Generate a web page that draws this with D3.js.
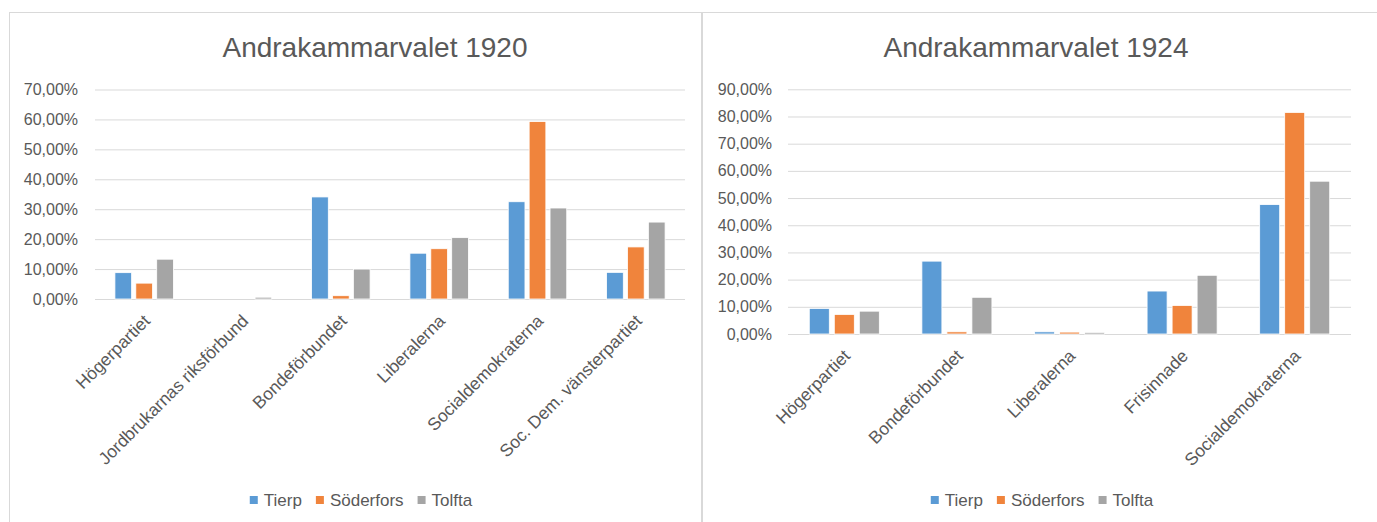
<!DOCTYPE html>
<html>
<head>
<meta charset="utf-8">
<script src="https://cdn.jsdelivr.net/npm/d3@7"></script>
<style>
  body { margin: 0; background: #fff; }
  svg { display: block; font-family: "Liberation Sans", Arial, sans-serif; }
</style>
</head>
<body>
<svg id="chart" width="1377" height="522"></svg>
<script>
// data (percent)
const series = ['Tierp', 'Söderfors', 'Tolfta']
const colors = ['#5B9BD5', '#F0843C', '#A5A5A5']

const parties1920 = ['Högerpartiet', 'Jordbrukarnas riksförbund', 'Bondeförbundet', 'Liberalerna', 'Socialdemokraterna', 'Soc. Dem. vänsterpartiet']
const tierp1920 = [8.8, 0, 34.1, 15.3, 32.5, 8.9]
const soderfors1920 = [5.3, 0, 1.1, 16.8, 59.3, 17.4]
const tolfta1920 = [13.3, 0.6, 10.0, 20.5, 30.4, 25.7]
const yTicks1920 = [0, 10, 20, 30, 40, 50, 60, 70]

const parties1924 = ['Högerpartiet', 'Bondeförbundet', 'Liberalerna', 'Frisinnade', 'Socialdemokraterna']
const tierp1924 = [9.4, 26.8, 0.8, 15.8, 47.6]
const soderfors1924 = [7.2, 0.8, 0.7, 10.5, 81.5]
const tolfta1924 = [8.4, 13.5, 0.6, 21.6, 56.2]
const yTicks1924 = [0, 10, 20, 30, 40, 50, 60, 70, 80, 90]

const locale = d3.formatLocale({ decimal: ',', thousands: ' ', grouping: [3], currency: ['', ''] })
const fmt = locale.format('.2f')

const svg = d3.select('#chart')
svg.append('rect').attr('width', 1377).attr('height', 522).attr('fill', '#fff')

// chart frames
svg.append('rect')
  .attr('x', 9.5).attr('y', 12.5).attr('width', 692).attr('height', 520)
  .attr('fill', 'none').attr('stroke', '#d9d9d9')
svg.append('rect')
  .attr('x', 702.5).attr('y', 12.5).attr('width', 690).attr('height', 520)
  .attr('fill', 'none').attr('stroke', '#d9d9d9')

function drawChart(cfg) {
  const rows = cfg.categories.map((c, i) => ({
    cat: c,
    vals: series.map((s, j) => ({ key: s, value: cfg.values[j][i], color: colors[j] }))
  }))

  const x0 = d3.scaleBand().domain(cfg.categories)
    .range(cfg.xRange).paddingInner(cfg.pad).paddingOuter(cfg.pad / 2)
  const x1 = d3.scaleBand().domain(series).range([0, x0.bandwidth()]).paddingInner(0.2)
  const y = d3.scaleLinear().domain([0, d3.max(cfg.ticks)]).range(cfg.yRange)

  const g = svg.append('g')

  // title
  g.append('text')
    .attr('x', cfg.titleX).attr('y', 57)
    .attr('text-anchor', 'middle')
    .attr('font-size', 28)
    .attr('fill', '#595959')
    .text(cfg.title)

  // grid + y labels
  const yAxis = g.append('g')
    .attr('transform', `translate(${cfg.xRange[0]},0)`)
    .call(d3.axisLeft(y)
      .tickValues(cfg.ticks)
      .tickFormat(d => fmt(d) + '%')
      .tickSize(-(cfg.xRange[1] - cfg.xRange[0]))
      .tickPadding(cfg.tickPad))
  yAxis.select('.domain').remove()
  yAxis.selectAll('line').attr('stroke', '#d9d9d9')
  yAxis.selectAll('text')
    .attr('fill', '#595959')
    .attr('font-size', 16)
    .attr('font-family', '"Liberation Sans", Arial, sans-serif')

  // bars
  g.append('g').selectAll('g')
    .data(rows)
    .join('g')
    .attr('transform', d => `translate(${x0(d.cat)},0)`)
    .selectAll('rect')
    .data(d => d.vals)
    .join('rect')
    .attr('x', d => x1(d.key))
    .attr('width', x1.bandwidth())
    .attr('y', d => y(d.value))
    .attr('height', d => y(0) - y(d.value))
    .attr('fill', d => d.color)
    .attr('stroke', '#fff')
    .attr('stroke-width', 0.8)

  // category labels
  g.append('g').selectAll('text')
    .data(cfg.categories)
    .join('text')
    .attr('transform', d => `translate(${x0(d) + x0.bandwidth() / 2 + 7},${y(0) + 23}) rotate(-45)`)
    .attr('text-anchor', 'end')
    .attr('font-size', 17.5)
    .attr('fill', '#595959')
    .text(d => d)

  // legend
  const leg = g.append('g')
  let cx = 0
  series.forEach((s, i) => {
    const it = leg.append('g')
    it.append('rect').attr('x', 0).attr('y', -4).attr('width', 8).attr('height', 8).attr('fill', colors[i])
    const t = it.append('text').attr('x', 14).attr('y', 6).attr('font-size', 17)
      .attr('fill', '#595959').text(s)
    const w = 14 + t.node().getComputedTextLength()
    it.attr('transform', `translate(${cx},0)`)
    cx += w + 14
  })
  const total = cx - 14
  leg.attr('transform', `translate(${cfg.legendX - total / 2},500)`)
}

drawChart({
  title: 'Andrakammarvalet 1920',
  titleX: 375,
  categories: parties1920,
  values: [tierp1920, soderfors1920, tolfta1920],
  ticks: yTicks1920,
  xRange: [95, 685],
  yRange: [299, 89.5],
  pad: 0.405,
  tickPad: 17,
  legendX: 361
})

drawChart({
  title: 'Andrakammarvalet 1924',
  titleX: 1036,
  categories: parties1924,
  values: [tierp1924, soderfors1924, tolfta1924],
  ticks: yTicks1924,
  xRange: [788, 1351],
  yRange: [334, 89.3],
  pad: 0.378,
  tickPad: 16,
  legendX: 1042
})
</script>
</body>
</html>
